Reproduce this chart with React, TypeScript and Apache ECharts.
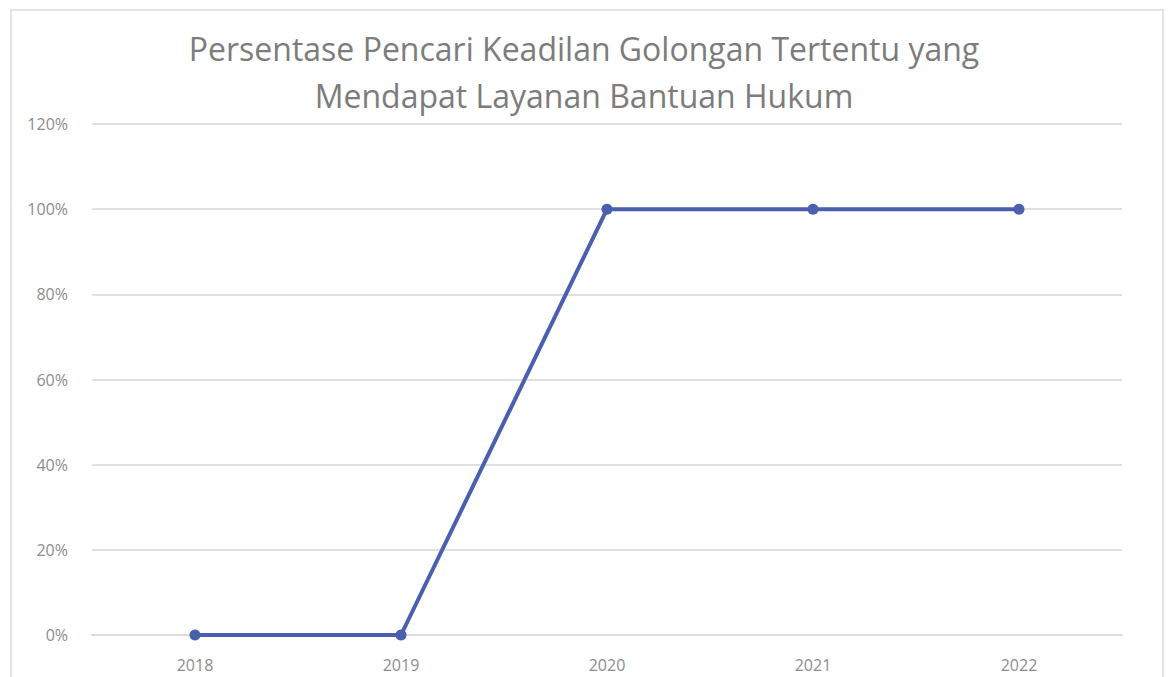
import React, { useEffect, useRef } from "react";
import * as echarts from "echarts";

const titleLines = [
  "Persentase Pencari Keadilan Golongan Tertentu yang",
  "Mendapat Layanan Bantuan Hukum",
];
const years = ["2018", "2019", "2020", "2021", "2022"];
const values = [0, 0, 100, 100, 100];
const yTicks = { min: 0, max: 120, interval: 20 };

export default function App() {
  const ref = useRef<HTMLDivElement>(null);
  useEffect(() => {
    if (!ref.current) return;
    const chart = echarts.init(ref.current, undefined, { renderer: "svg" });
    chart.setOption({
      animation: false,
      backgroundColor: "#ffffff",
      title: {
        text: titleLines.join("\n"),
        left: "center",
        top: 20,
        textStyle: {
          fontFamily: "Open Sans",
          fontSize: 32,
          fontWeight: "normal",
          color: "#7c7c7c",
          lineHeight: 47,
        },
      },
      graphic: [
        {
          type: "rect",
          shape: { x: 11, y: 10, width: 1152, height: 680 },
          style: { fill: "none", stroke: "#e4e4e4", lineWidth: 2 },
          silent: true,
        },
      ],
      grid: { left: 92, right: 46, top: 124, bottom: 42 },
      xAxis: {
        type: "category",
        data: years,
        boundaryGap: true,
        axisLine: { show: true, lineStyle: { color: "#dcdcdc", width: 2 } },
        axisTick: { show: false },
        axisLabel: {
          margin: 22,
          color: "#8c8c8c",
          fontFamily: "Open Sans",
          fontSize: 16,
        },
      },
      yAxis: {
        type: "value",
        min: yTicks.min,
        max: yTicks.max,
        interval: yTicks.interval,
        axisLine: { show: false },
        axisTick: { show: false },
        splitLine: { lineStyle: { color: "#e0e0e0", width: 2 } },
        axisLabel: {
          formatter: "{value}%",
          margin: 24,
          color: "#8c8c8c",
          fontFamily: "Open Sans",
          fontSize: 16,
        },
      },
      series: [
        {
          type: "line",
          data: values,
          symbol: "circle",
          symbolSize: 11,
          lineStyle: { color: "#4a5fad", width: 4 },
          itemStyle: { color: "#4a5fad" },
        },
      ],
    });
    return () => chart.dispose();
  }, []);
  return (
    <div
      ref={ref}
      style={{ position: "fixed", left: 0, top: 0, width: 1168, height: 677 }}
    />
  );
}
